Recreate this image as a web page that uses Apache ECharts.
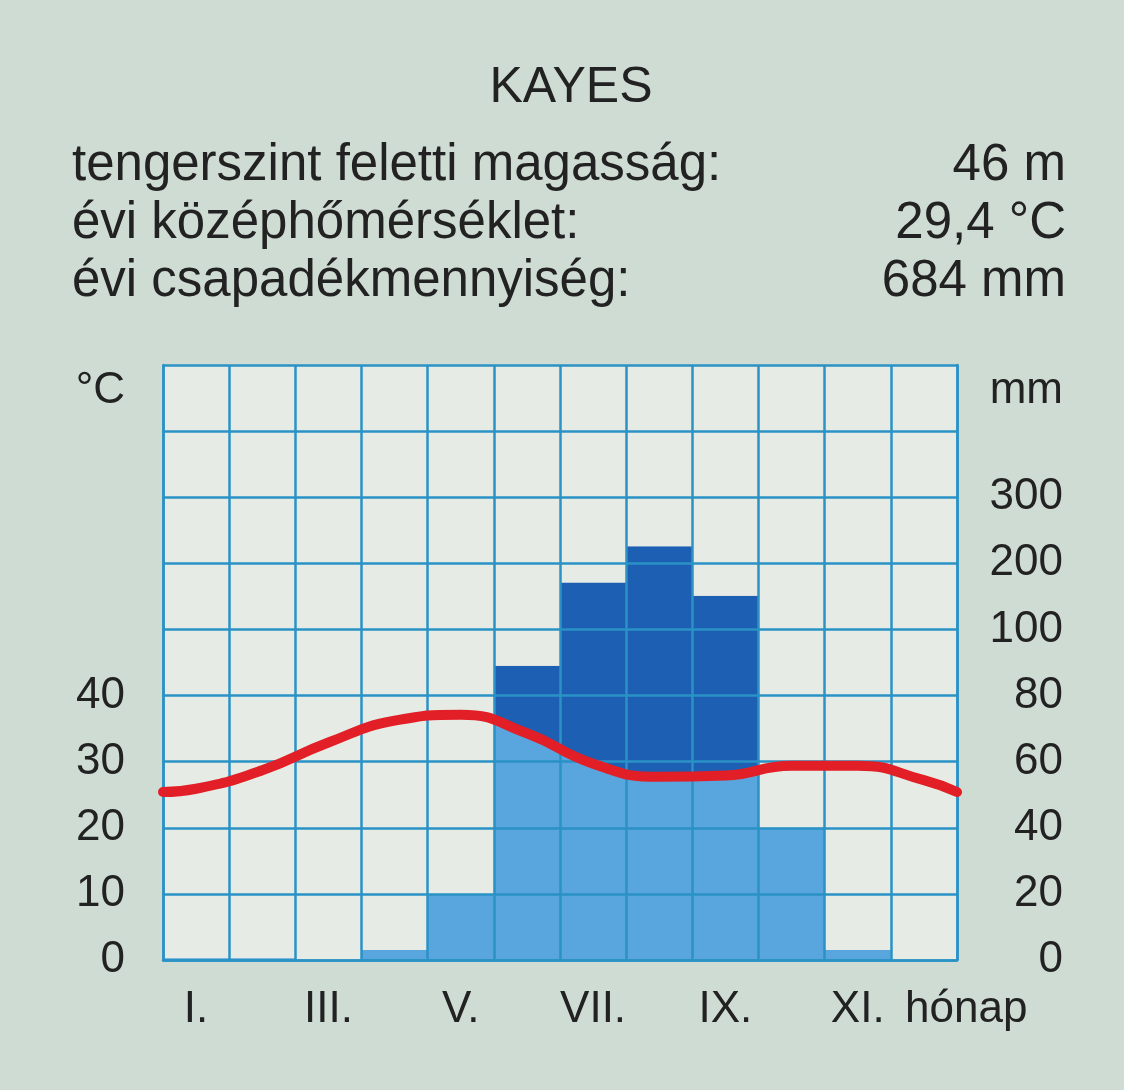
<!DOCTYPE html>
<html>
<head>
<meta charset="utf-8">
<script src="https://cdn.jsdelivr.net/npm/echarts@6/dist/echarts.min.js"></script>
<style>
  html, body { margin: 0; padding: 0; background: #cfdcd4; }
  #chart { width: 1124px; height: 1090px; }
</style>
</head>
<body>
<div id="chart"></div>
<script>
// monthly data
var months = ['I.', 'II.', 'III.', 'IV.', 'V.', 'VI.', 'VII.', 'VIII.', 'IX.', 'X.', 'XI.', 'XII.'];
var precip = [0.5, 0.5, 0, 3, 20, 89, 171, 226, 151, 40, 3, 0];          // mm
var temp = [25.9, 28.7, 32.9, 36.2, 37.1, 34.3, 29.7, 27.7, 27.9, 29.4, 29.4, 27.2]; // °C
var tempEdge = 25.4;   // where the curve meets the frame (Dec -> Jan)
var tempTicks = ['0', '10', '20', '30', '40', '', '', '', '', ''];
var precipTicks = ['0', '20', '40', '60', '80', '100', '200', '300', '', ''];
var infoLabels = ['tengerszint feletti magasság:', 'évi középhőmérséklet:', 'évi csapadékmennyiség:'];
var infoValues = ['46 m', '29,4 °C', '684 mm'];

var font = "'Liberation Sans', Arial, Helvetica, sans-serif";
var txt = '#222222';
var gridColor = '#2a92c5';
var cellColor = '#e6ebe5';

// precipitation axis: 10 °C = 20 mm up to 100 mm, above that 10 units = 100 mm
function toAxis(mm) {
  return mm <= 100 ? mm / 2 : 50 + (mm - 100) / 10;
}
var precipAxis = precip.map(toAxis);
var above = precipAxis.map(function (v) { return 90 - v; });

var tempLine = [[0, tempEdge]];
temp.forEach(function (t, i) { tempLine.push([i + 0.5, t]); });
tempLine.push([12, tempEdge]);

var graphics = [{
  type: 'text', x: 571, y: 88,
  style: { text: 'KAYES', fill: txt, fontSize: 50, fontFamily: font, align: 'center', verticalAlign: 'middle' }
}];
infoLabels.forEach(function (s, i) {
  graphics.push({ type: 'text', x: 72, y: 166 + i * 58,
    style: { text: s, fill: txt, fontSize: 51, fontFamily: font, align: 'left', verticalAlign: 'middle' } });
  graphics.push({ type: 'text', x: 1066, y: 166 + i * 58,
    style: { text: infoValues[i], fill: txt, fontSize: 51, fontFamily: font, align: 'right', verticalAlign: 'middle' } });
});
graphics.push({ type: 'text', x: 125, y: 391,
  style: { text: '°C', fill: txt, fontSize: 44, fontFamily: font, align: 'right', verticalAlign: 'middle' } });
graphics.push({ type: 'text', x: 1063, y: 391,
  style: { text: 'mm', fill: txt, fontSize: 44, fontFamily: font, align: 'right', verticalAlign: 'middle' } });
graphics.push({ type: 'text', x: 905, y: 1010,
  style: { text: 'hónap', fill: txt, fontSize: 44, fontFamily: font, align: 'left', verticalAlign: 'middle' } });

var chart = echarts.init(document.getElementById('chart'));
var gridLine = { color: gridColor, width: 2.5 };

chart.setOption({
  backgroundColor: '#cfdcd4',
  animation: false,
  textStyle: { fontFamily: font },
  grid: { left: 163, right: 167, top: 365, bottom: 130, show: true, backgroundColor: cellColor, borderWidth: 0 },
  xAxis: [{
    type: 'category', data: months, boundaryGap: true, z: 10,
    axisLine: { show: true, lineStyle: gridLine },
    axisTick: { show: false },
    axisLabel: { interval: 1, color: txt, fontSize: 44, fontFamily: font, margin: 50, verticalAlign: 'middle' },
    splitLine: { show: true, interval: 0, lineStyle: gridLine }
  }, {
    type: 'value', min: 0, max: 12, show: false
  }],
  yAxis: [{
    type: 'value', min: 0, max: 90, interval: 10, z: 10,
    axisLine: { show: true, lineStyle: gridLine },
    axisTick: { show: false },
    axisLabel: { color: txt, fontSize: 44, fontFamily: font, margin: 38,
      formatter: function (v) { return tempTicks[Math.round(v / 10)]; } },
    splitLine: { show: true, lineStyle: gridLine }
  }, {
    type: 'value', min: 0, max: 90, interval: 10, position: 'right', z: 10,
    axisLine: { show: true, lineStyle: gridLine },
    axisTick: { show: false },
    axisLabel: { color: txt, fontSize: 44, fontFamily: font, margin: 106, align: 'right',
      formatter: function (v) { return precipTicks[Math.round(v / 10)]; } },
    splitLine: { show: false }
  }],
  series: [{
    // wet part (above the temperature curve)
    name: 'csapadék', type: 'bar', stack: 'col', data: precipAxis,
    barCategoryGap: 0, z: 1, silent: true,
    itemStyle: { color: '#1d5fb3' }
  }, {
    // covers the empty cells above each bar
    name: 'fölötte', type: 'bar', stack: 'col', data: above,
    barCategoryGap: 0, z: 3, silent: true,
    itemStyle: { color: cellColor }
  }, {
    // light blue under the temperature curve
    name: 'alatta', type: 'line', xAxisIndex: 1, data: tempLine, smooth: 0.5,
    symbol: 'none', z: 2, silent: true,
    lineStyle: { width: 0 },
    areaStyle: { color: '#59a5dd', opacity: 1 }
  }, {
    name: 'hőmérséklet', type: 'line', xAxisIndex: 1, data: tempLine, smooth: 0.5,
    symbol: 'none', z: 20, clip: false, silent: true,
    lineStyle: { color: '#e21f26', width: 10, cap: 'round' }
  }],
  graphic: graphics
});
</script>
</body>
</html>
